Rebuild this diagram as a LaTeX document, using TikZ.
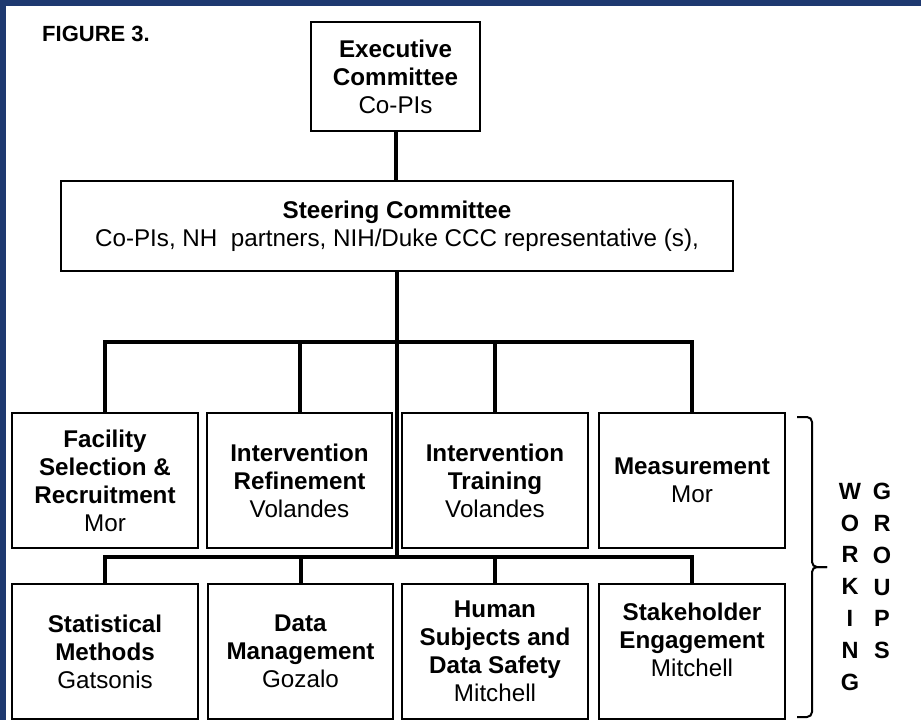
\documentclass[tikz,border=0pt]{standalone}
\usepackage{fontspec}
\setmainfont{Liberation Sans}
\definecolor{navy}{RGB}{30,57,112}

\begin{document}
\begin{tikzpicture}[x=1pt, y=-1pt,
		box/.style = {draw, line width=2.5pt, minimum width=186pt, minimum height=135pt, inner sep=0pt, align=center, font=\fontsize{24.2}{28}\selectfont},
		link/.style = {line width=4pt},
		bracket/.style = {line width=2pt, rounded corners=5pt},
		letters/.style = {anchor=north, inner sep=0pt, align=center, font=\fontsize{23.5}{31.8}\selectfont\bfseries}]
			\def\rowa{480.5}
			\def\rowb{651.5}

			\useasboundingbox (0,0) rectangle (921,720);
			\fill[navy] (0,0) rectangle (6,720);
			\fill[navy] (0,0) rectangle (921,6);

			\node[anchor=north west, inner sep=0pt, font=\fontsize{22}{26}\selectfont\bfseries] (title) at (42,26) {FIGURE 3.};

			\node[box, minimum width=169pt, minimum height=109pt] (exec) at (395.5,76.5) {\textbf{Executive}\\\textbf{Committee}\\Co-PIs};
			\node[box, minimum width=672pt, minimum height=90pt] (steer) at (397,226) {\textbf{Steering Committee}\\Co-PIs, NH\ \ partners, NIH/Duke CCC representative (s),};

			\begin{scope}
				\node[box] (facil) at (105,\rowa) {\textbf{Facility}\\\textbf{Selection \&}\\\textbf{Recruitment}\\Mor};
				\node[box, minimum width=185pt] (refine) at (299.5,\rowa) {\textbf{Intervention}\\\textbf{Refinement}\\Volandes};
				\node[box] (train) at (495,\rowa) {\textbf{Intervention}\\\textbf{Training}\\Volandes};
				\node[box] (meas) at (692,\rowa) {\textbf{Measurement}\\Mor};
			\end{scope}

			\begin{scope}
				\node[box] (stats) at (105,\rowb) {\textbf{Statistical}\\\textbf{Methods}\\Gatsonis};
				\node[box, minimum width=185pt] (datam) at (300.5,\rowb) {\textbf{Data}\\\textbf{Management}\\Gozalo};
				\node[box] (human) at (495,\rowb) {\textbf{Human}\\\textbf{Subjects and}\\\textbf{Data Safety}\\Mitchell};
				\node[box] (stake) at (692,\rowb) {};
				\node[inner sep=0pt, align=center, font=\fontsize{24.2}{28}\selectfont] (staketext) at ([yshift=12pt]stake.center) {\textbf{Stakeholder}\\\textbf{Engagement}\\Mitchell};
			\end{scope}

			\coordinate (busa) at (0,342);
			\coordinate (busb) at (0,557);

			\draw[link] (exec.south) -- (exec.south |- steer.north);
			\draw[link] (steer.south) -- (steer.south |- busb);

			\draw[link] (facil.north) -- (facil.north |- busa) -- (meas.north |- busa) -- (meas.north);
			\draw[link] (refine.north) -- (refine.north |- busa);
			\draw[link] (train.north) -- (train.north |- busa);

			\draw[link] (stats.north) -- (stats.north |- busb) -- (stake.north |- busb) -- (stake.north);
			\draw[link] (datam.north) -- (datam.north |- busb);
			\draw[link] (human.north) -- (human.north |- busb);

			\coordinate (bracetop) at (797,417);
			\coordinate (bracetip) at (827,567);
			\coordinate (bracebot) at (797,717);
			\draw[bracket] (bracetop) -- (812,417) -- (812,567) -- (bracetip);
			\draw[bracket] (bracetip) -- (812,567) -- (812,717) -- (bracebot);

			\node[letters] (working) at (850,483) {W\\O\\R\\K\\I\\N\\G};
			\node[letters] (groups) at (882,483) {G\\R\\O\\U\\P\\S};
		\end{tikzpicture}
\end{document}
